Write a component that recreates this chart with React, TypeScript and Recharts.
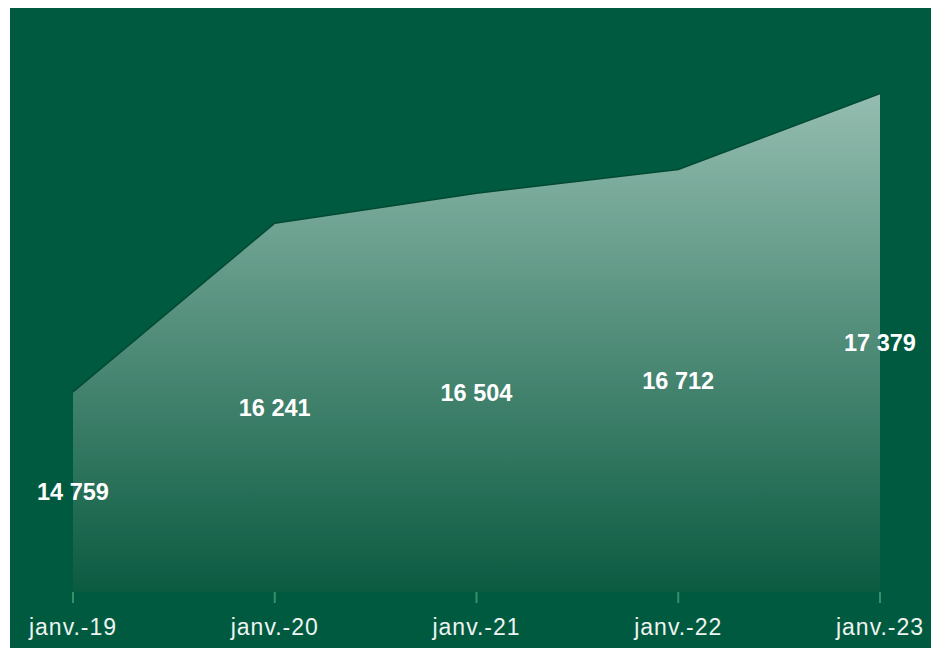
import React from "react";
import { AreaChart, Area, XAxis, YAxis, LabelList } from "recharts";

const months = ["janv.-19", "janv.-20", "janv.-21", "janv.-22", "janv.-23"];
const totals = [14759, 16241, 16504, 16712, 17379];

const data = months.map((m, i) => ({ month: m, total: totals[i] }));

const W = 921;
const H = 640;
const margin = { top: 15, right: 51, bottom: 0, left: 63 };
const axisHeight = 56;
const baseY = H - margin.bottom - axisHeight;

const font = "Liberation Sans, Arial, sans-serif";
const fmt = (v: number) => v.toLocaleString("fr-FR").replace(/\u202f|\u00a0/g, " ");

const MidLabel = (props: any) => {
    const { x, y, value } = props;
    return (
        <text
            x={x}
            y={(y + baseY) / 2}
            textAnchor="middle"
            dominantBaseline="central"
            fill="#ffffff"
            fontSize={23.5}
            fontWeight="bold"
            fontFamily={font}
        >
            {fmt(value)}
        </text>
    );
};

export default function App() {
    return (
        <div style={{ position: "absolute", left: 10, top: 8, width: W, height: H, background: "#005a3f" }}>
            <AreaChart width={W} height={H} data={data} margin={margin}>
                <defs>
                    <linearGradient id="fillGrad" x1="0" y1="0" x2="0" y2="1">
                        <stop offset="0%" stopColor="#94bdb0" />
                        <stop offset="100%" stopColor="#0b5b41" />
                    </linearGradient>
                </defs>
                <XAxis
                    dataKey="month"
                    height={axisHeight}
                    axisLine={false}
                    tickLine={{ stroke: "#35906c", strokeWidth: 2 }}
                    tickSize={11}
                    tickMargin={16}
                    tick={{ fill: "#eef4f1", fontSize: 23, fontFamily: font, letterSpacing: 1 }}
                    interval={0}
                />
                <YAxis hide domain={[13000, 18000]} />
                <Area
                    type="linear"
                    dataKey="total"
                    stroke="#034a33"
                    strokeWidth={1.5}
                    fill="url(#fillGrad)"
                    fillOpacity={1}
                    baseValue={13000}
                    isAnimationActive={false}
                >
                    <LabelList dataKey="total" content={<MidLabel />} />
                </Area>
            </AreaChart>
        </div>
    );
}
